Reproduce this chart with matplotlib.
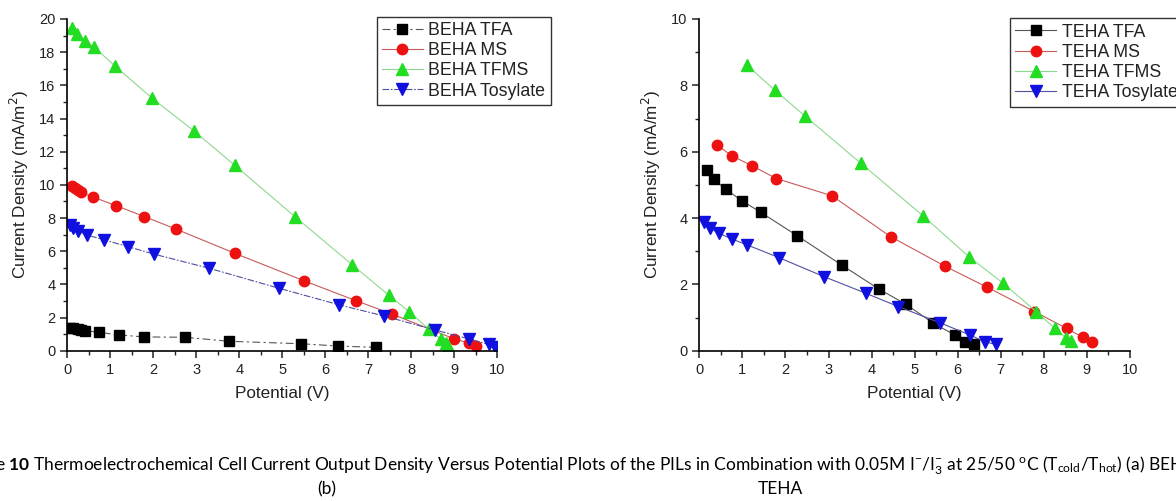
import matplotlib
matplotlib.use("Agg")
import matplotlib.pyplot as plt
from matplotlib.ticker import MultipleLocator

plt.rcParams['font.family'] = ['Liberation Sans', 'DejaVu Sans']

# ---------------- data: BEHA (left panel) ----------------
beha_tfa_v = [0.06, 0.14, 0.24, 0.33, 0.41, 0.73, 1.21, 1.79, 2.74, 3.75, 5.44, 6.30, 7.17]
beha_tfa_i = [1.39, 1.35, 1.29, 1.25, 1.21, 1.11, 0.95, 0.83, 0.81, 0.57, 0.42, 0.28, 0.20]

beha_ms_v = [0.10, 0.18, 0.26, 0.32, 0.60, 1.13, 1.79, 2.53, 3.89, 5.50, 6.71, 7.56, 9.00, 9.35, 9.50]
beha_ms_i = [9.92, 9.84, 9.70, 9.54, 9.26, 8.75, 8.09, 7.33, 5.88, 4.22, 3.02, 2.20, 0.71, 0.45, 0.28]

beha_tfms_v = [0.12, 0.23, 0.41, 0.63, 1.12, 1.96, 2.94, 3.89, 5.30, 6.63, 7.47, 7.95, 8.41, 8.69, 8.80, 8.86]
beha_tfms_i = [19.46, 19.09, 18.70, 18.29, 17.14, 15.25, 13.26, 11.19, 8.07, 5.17, 3.36, 2.35, 1.29, 0.69, 0.45, 0.30]

beha_tos_v = [0.06, 0.14, 0.24, 0.45, 0.86, 1.40, 2.02, 3.30, 4.93, 6.33, 7.37, 8.55, 9.34, 9.80, 9.95]
beha_tos_i = [7.58, 7.39, 7.22, 6.98, 6.68, 6.28, 5.82, 4.97, 3.76, 2.76, 2.09, 1.25, 0.71, 0.38, 0.24]

# ---------------- data: TEHA (right panel) ----------------
teha_tfa_v = [0.19, 0.33, 0.61, 1.00, 1.43, 2.28, 3.32, 4.18, 4.80, 5.43, 5.94, 6.17, 6.38]
teha_tfa_i = [5.45, 5.17, 4.87, 4.51, 4.17, 3.46, 2.57, 1.85, 1.40, 0.83, 0.47, 0.27, 0.19]

teha_ms_v = [0.41, 0.75, 1.23, 1.79, 3.08, 4.44, 5.70, 6.69, 7.78, 8.53, 8.91, 9.12]
teha_ms_i = [6.20, 5.88, 5.57, 5.19, 4.67, 3.44, 2.55, 1.91, 1.18, 0.67, 0.40, 0.27]

teha_tfms_v = [1.10, 1.75, 2.45, 3.75, 5.20, 6.27, 7.06, 7.82, 8.26, 8.51, 8.63]
teha_tfms_i = [8.61, 7.86, 7.08, 5.65, 4.06, 2.82, 2.03, 1.18, 0.67, 0.39, 0.30]

teha_tos_v = [0.12, 0.25, 0.46, 0.75, 1.11, 1.86, 2.90, 3.87, 4.62, 5.59, 6.29, 6.63, 6.88]
teha_tos_i = [3.87, 3.69, 3.54, 3.37, 3.19, 2.80, 2.23, 1.73, 1.33, 0.84, 0.47, 0.27, 0.19]

beha_labels = ["BEHA TFA", "BEHA MS", "BEHA TFMS", "BEHA Tosylate"]
teha_labels = ["TEHA TFA", "TEHA MS", "TEHA TFMS", "TEHA Tosylate"]

xlabel = "Potential (V)"
ylabel = "Current Density (mA/m$^2$)"

W, H = 1176, 501
fig = plt.figure(figsize=(W / 100, H / 100), dpi=100)

styles = [
    dict(color='#555555', marker='s', mfc='black', mec='black', ms=6.5),
    dict(color='#c85a5a', marker='o', mfc='#ee1111', mec='#ee1111', ms=7.5),
    dict(color='#8ed88e', marker='^', mfc='#22dd22', mec='#22dd22', ms=8),
    dict(color='#5050a0', marker='v', mfc='#1010e0', mec='#1010e0', ms=8),
]


def make_panel(rect, series, labels, ymax, legend_xy, linestyles):
    ax = fig.add_axes(rect)
    for (v, i), lab, st, ls in zip(series, labels, styles, linestyles):
        ax.plot(v, i, label=lab, lw=0.8, ls=ls, **st)
    ax.set_xlim(0, 10)
    ax.set_ylim(0, ymax)
    ax.spines['top'].set_visible(False)
    ax.spines['right'].set_visible(False)
    ax.spines['left'].set_linewidth(1.2)
    ax.spines['bottom'].set_linewidth(1.2)
    ax.xaxis.set_major_locator(MultipleLocator(1))
    ax.xaxis.set_minor_locator(MultipleLocator(0.5))
    ax.yaxis.set_major_locator(MultipleLocator(2))
    ax.yaxis.set_minor_locator(MultipleLocator(1))
    ax.tick_params(which='major', direction='out', length=5, width=1.1, labelsize=10.5, colors='#222222')
    ax.tick_params(which='minor', direction='out', length=3, width=1.0, colors='#222222')
    ax.set_xlabel(xlabel, fontsize=12.3, labelpad=7, color='#222222')
    ax.set_ylabel(ylabel, fontsize=12.3, labelpad=6, color='#222222')
    leg = ax.legend(loc='upper left', bbox_to_anchor=(legend_xy[0] / W, 1 - legend_xy[1] / H),
                    bbox_transform=fig.transFigure, borderaxespad=0, fontsize=12.8,
                    labelspacing=0.18, handlelength=2.3, handletextpad=0.3,
                    borderpad=0.3, fancybox=False, framealpha=1, edgecolor='#333333')
    leg.get_frame().set_linewidth(1.0)
    for t in leg.get_texts():
        t.set_color('#222222')
    return ax


y0 = (H - 350.7) / H
hh = 331.7 / H

make_panel([67.3 / W, y0, 430 / W, hh],
           [(beha_tfa_v, beha_tfa_i), (beha_ms_v, beha_ms_i),
            (beha_tfms_v, beha_tfms_i), (beha_tos_v, beha_tos_i)],
           beha_labels, 20, (376.7, 16.7),
           [(0, (7, 3, 2, 3)), '-', '-', (0, (6, 1.5, 1.5, 1.5))])

make_panel([699.3 / W, y0, 430.7 / W, hh],
           [(teha_tfa_v, teha_tfa_i), (teha_ms_v, teha_ms_i),
            (teha_tfms_v, teha_tfms_i), (teha_tos_v, teha_tos_i)],
           teha_labels, 10, (1010, 18.3),
           ['-', '-', '-', '-'])

# ---------------- caption ----------------
plt.rcParams['mathtext.fontset'] = 'custom'
plt.rcParams['mathtext.rm'] = 'Lato'
plt.rcParams['mathtext.it'] = 'Lato'
plt.rcParams['mathtext.bf'] = 'Lato:bold'
cap = (r"Figure $\mathbf{10}$ Thermoelectrochemical Cell Current Output Density Versus Potential Plots of the PILs "
       r"in Combination with 0.05M I$^{-}$/I$_{3}^{-}$ at 25/50 $^{\rm o}$C (T$_{\rm cold}$/T$_{\rm hot}$) (a) BEHA")
fig.text(-44 / W, 1 - 466 / H, cap, fontsize=12.5, family='Lato', ha='left', va='center', color='black')
fig.text(327 / W, 1 - 489 / H, "(b)", fontsize=12.5, family='Lato', ha='center', va='center')
fig.text(780 / W, 1 - 489 / H, "TEHA", fontsize=12.5, family='Lato', ha='center', va='center')

fig.savefig("out.png", dpi=100)
